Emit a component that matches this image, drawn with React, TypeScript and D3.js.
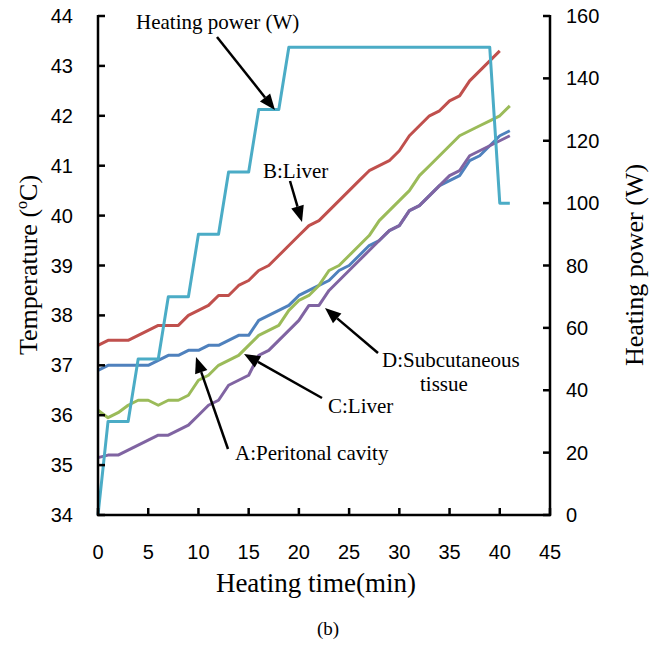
import React from 'react'
import * as d3 from 'd3'

// minutes 0..41
const minutes = d3.range(0, 42)

const peritoneal = [36.9, 37.0, 37.0, 37.0, 37.0, 37.0, 37.1, 37.2, 37.2, 37.3, 37.3, 37.4, 37.4, 37.5, 37.6, 37.6, 37.9, 38.0, 38.1, 38.2, 38.4, 38.5, 38.6, 38.7, 38.9, 39.0, 39.2, 39.4, 39.5, 39.7, 39.8, 40.1, 40.2, 40.4, 40.6, 40.7, 40.8, 41.1, 41.2, 41.4, 41.6, 41.7]
const liverB = [37.4, 37.5, 37.5, 37.5, 37.6, 37.7, 37.8, 37.8, 37.8, 38.0, 38.1, 38.2, 38.4, 38.4, 38.6, 38.7, 38.9, 39.0, 39.2, 39.4, 39.6, 39.8, 39.9, 40.1, 40.3, 40.5, 40.7, 40.9, 41.0, 41.1, 41.3, 41.6, 41.8, 42.0, 42.1, 42.3, 42.4, 42.7, 42.9, 43.1, 43.3]
const liverC = [36.1, 35.95, 36.05, 36.2, 36.3, 36.3, 36.2, 36.3, 36.3, 36.4, 36.7, 36.8, 37.0, 37.1, 37.2, 37.4, 37.6, 37.7, 37.8, 38.1, 38.3, 38.4, 38.6, 38.9, 39.0, 39.2, 39.4, 39.6, 39.9, 40.1, 40.3, 40.5, 40.8, 41.0, 41.2, 41.4, 41.6, 41.7, 41.8, 41.9, 42.0, 42.2]
const subcutaneous = [35.15, 35.2, 35.2, 35.3, 35.4, 35.5, 35.6, 35.6, 35.7, 35.8, 36.0, 36.2, 36.3, 36.6, 36.7, 36.8, 37.2, 37.3, 37.5, 37.7, 37.9, 38.2, 38.2, 38.5, 38.7, 38.9, 39.1, 39.3, 39.5, 39.7, 39.8, 40.1, 40.2, 40.4, 40.6, 40.8, 40.9, 41.2, 41.3, 41.4, 41.5, 41.6]
const power = [0, 30, 30, 30, 50, 50, 50, 70, 70, 70, 90, 90, 90, 110, 110, 110, 130, 130, 130, 150, 150, 150, 150, 150, 150, 150, 150, 150, 150, 150, 150, 150, 150, 150, 150, 150, 150, 150, 150, 150, 100, 100]

const xTicks = [0, 5, 10, 15, 20, 25, 30, 35, 40, 45]
const tempTicks = [34, 35, 36, 37, 38, 39, 40, 41, 42, 43, 44]
const powerTicks = [0, 20, 40, 60, 80, 100, 120, 140, 160]

const tempSeries = [
  { name: 'A', values: peritoneal, color: '#4F81BD' },
  { name: 'B', values: liverB, color: '#C0504D' },
  { name: 'C', values: liverC, color: '#9BBB59' },
  { name: 'D', values: subcutaneous, color: '#8064A2' },
]

const serif = '"Liberation Serif", "Times New Roman", serif'
const sans = '"Liberation Sans", Arial, sans-serif'

function Arrow({ x1, y1, x2, y2 }: { x1: number; y1: number; x2: number; y2: number }) {
  const a = Math.atan2(y2 - y1, x2 - x1)
  const len = 16
  const half = 6.5
  const bx = x2 - len * Math.cos(a)
  const by = y2 - len * Math.sin(a)
  const px = -Math.sin(a) * half
  const py = Math.cos(a) * half
  return (
    <g>
      <line x1={x1} y1={y1} x2={bx} y2={by} stroke="#000" strokeWidth={2.5} />
      <path d={`M${x2},${y2}L${bx + px},${by + py}L${bx - px},${by - py}Z`} fill="#000" />
    </g>
  )
}

export default function App() {
  const left = 98
  const right = 550
  const top = 16
  const bottom = 515

  const x = d3.scaleLinear().domain([0, 45]).range([left, right])
  const yT = d3.scaleLinear().domain([34, 44]).range([bottom, top])
  const yP = d3.scaleLinear().domain([0, 160]).range([bottom, top])

  const tempLine = d3.line<number>().x((_, i) => x(minutes[i])).y(d => yT(d))
  const powerLine = d3.line<number>().x((_, i) => x(minutes[i])).y(d => yP(d))

  return (
    <svg width={656} height={648} style={{ position: 'absolute', left: 0, top: 0, background: '#fff' }}>
      {tempSeries.map(s => (
        <path key={s.name} d={tempLine(s.values) ?? ''} fill="none" stroke={s.color} strokeWidth={3} strokeLinejoin="round" />
      ))}
      <path d={powerLine(power) ?? ''} fill="none" stroke="#4BACC6" strokeWidth={3} strokeLinejoin="round" />

      {/* axes */}
      <g stroke="#000" strokeWidth={2.5} fill="none">
        <line x1={left} y1={top - 1} x2={left} y2={bottom + 1} />
        <line x1={right} y1={top - 1} x2={right} y2={bottom + 1} />
        <line x1={left - 1} y1={bottom} x2={right + 1} y2={bottom} />
        {tempTicks.map(t => (
          <line key={'lt' + t} x1={left} x2={left + 7} y1={yT(t)} y2={yT(t)} />
        ))}
        {powerTicks.map(t => (
          <line key={'rt' + t} x1={right - 7} x2={right} y1={yP(t)} y2={yP(t)} />
        ))}
        {xTicks.map(t => (
          <line key={'xt' + t} x1={x(t)} x2={x(t)} y1={bottom} y2={bottom - 7} />
        ))}
      </g>

      <g fontFamily={sans} fontSize={20} fill="#000">
        {tempTicks.map(t => (
          <text key={'ll' + t} x={73} y={yT(t)} dy="0.35em" textAnchor="end">{t}</text>
        ))}
        {powerTicks.map(t => (
          <text key={'rl' + t} x={566} y={yP(t)} dy="0.35em" textAnchor="start">{t}</text>
        ))}
        {xTicks.map(t => (
          <text key={'xl' + t} x={x(t)} y={559} textAnchor="middle">{t}</text>
        ))}
      </g>

      <g fontFamily={serif} fill="#000">
        <text transform="translate(37,265) rotate(-90)" textAnchor="middle" fontSize={26}>
          Temperature (<tspan fontSize={16} dy={-10}>o</tspan><tspan dy={10}>C)</tspan>
        </text>
        <text transform="translate(643,265) rotate(-90)" textAnchor="middle" fontSize={26}>Heating power (W)</text>
        <text x={316} y={592} textAnchor="middle" fontSize={27}>Heating time(min)</text>
        <text x={328} y={635} textAnchor="middle" fontSize={19}>(b)</text>

        <text x={136} y={29} fontSize={21}>Heating power (W)</text>
        <text x={263} y={178} fontSize={21}>B:Liver</text>
        <text x={382} y={367} fontSize={21}>D:Subcutaneous</text>
        <text x={420} y={391} fontSize={21}>tissue</text>
        <text x={328} y={413} fontSize={21}>C:Liver</text>
        <text x={235} y={460} fontSize={21}>A:Peritonal cavity</text>
      </g>

      <Arrow x1={217} y1={37} x2={275} y2={110} />
      <Arrow x1={290} y1={181} x2={302} y2={222} />
      <Arrow x1={378} y1={353} x2={325} y2={308} />
      <Arrow x1={322} y1={398} x2={244} y2={354} />
      <Arrow x1={228} y1={449} x2={196} y2={357} />
    </svg>
  )
}
